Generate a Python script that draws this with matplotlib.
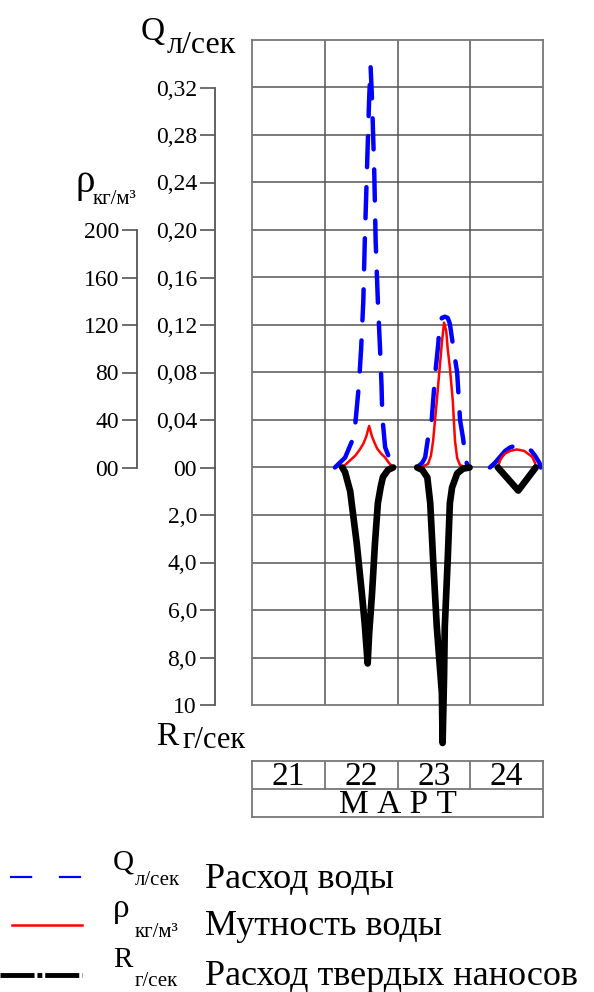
import numpy as np
import matplotlib.pyplot as plt
from matplotlib.lines import Line2D

plt.rcParams['font.family'] = ['Liberation Serif', 'DejaVu Serif']

W, H = 594, 992
nan = np.nan

# days of the month on the x axis, events as fractional days
days = [21, 22, 23, 24]
month = 'М А Р Т'

# water discharge Q, l/s
q_t = [22.14, 22.28, 22.38, 22.42, 22.44, 22.47, 22.50, 22.53, 22.55, 22.58, 22.61, 22.63,
       22.65, 22.68, 22.70, 22.73, 22.76, 22.78, 22.79, 22.80, 22.83, 22.90, 22.97, nan,
       23.27, 23.34, 23.38, 23.42, 23.47, 23.52, 23.56, 23.58, 23.61, 23.65, 23.69, 23.72,
       23.76, 23.82, 23.86, 23.90, 23.94, 23.97, nan,
       24.27, 24.34, 24.41, 24.48, 24.55, 24.66, 24.77, 24.84, 24.89, 24.95, 24.97]
q_val = [0, 0.0084, 0.023, 0.037, 0.05, 0.07, 0.10, 0.14, 0.19, 0.25, 0.31, 0.338,
         0.31, 0.25, 0.19, 0.14, 0.10, 0.07, 0.046, 0.037, 0.017, 0.006, 0, nan,
         0, 0.004, 0.0085, 0.025, 0.04, 0.08, 0.104, 0.121, 0.126, 0.127, 0.126, 0.121,
         0.104, 0.08, 0.04, 0.025, 0.006, 0, nan,
         0, 0.004, 0.009, 0.014, 0.017, 0.019, 0.017, 0.014, 0.010, 0.004, 0]

# turbidity rho, kg/m3
rho_t = [22.24, 22.33, 22.42, 22.48, 22.53, 22.57, 22.61, 22.65, 22.69, 22.72, 22.77,
         22.83, 22.88, 22.94, nan,
         23.27, 23.35, 23.42, 23.46, 23.49, 23.54, 23.58, 23.61, 23.64, 23.67, 23.69,
         23.72, 23.76, 23.79, 23.82, 23.86, 23.96, nan,
         24.38, 24.41, 24.44, 24.48, 24.55, 24.64, 24.74, 24.79, 24.85, 24.89, 24.90]
rho_val = [0, 5, 10, 15, 20, 26, 35, 26, 20, 16, 12, 8.4, 4, 0, nan,
           0, 1, 3, 10, 22.7, 56, 84, 105, 122, 115, 100, 84, 56, 22.7, 8, 2, 0, nan,
           0, 6, 9, 11.8, 14, 15.2, 14, 11.8, 9, 4, 0]

# sediment discharge R, g/s
r_t = [22.24, 22.28, 22.31, 22.35, 22.37, 22.44, 22.51, 22.55, 22.59, 22.61, 22.65,
       22.69, 22.73, 22.77, 22.80, 22.87, 22.94, nan,
       23.27, 23.34, 23.41, 23.45, 23.49, 23.54, 23.61, 23.62, 23.64, 23.65, 23.69,
       23.72, 23.75, 23.82, 23.90, 23.99, nan,
       24.38, 24.66, 24.90]
r_val = [0, 0.2, 0.55, 1.0, 1.5, 3.2, 5.3, 6.6, 8.25, 7.0, 5.3, 3.2, 1.5, 0.8, 0.4, 0.1, 0, nan,
         0, 0.1, 0.42, 1.5, 3.9, 6.7, 9.5, 11.6, 8.8, 6.7, 3.9, 1.5, 0.84, 0.25, 0.05, 0, nan,
         0, 0.97, 0]

q_ticks = [0, 0.04, 0.08, 0.12, 0.16, 0.20, 0.24, 0.28, 0.32]
q_labels = ['00', '0,04', '0,08', '0,12', '0,16', '0,20', '0,24', '0,28', '0,32']
r_ticks = [2, 4, 6, 8, 10]
r_labels = ['2,0', '4,0', '6,0', '8,0', '10']
rho_ticks = [0, 40, 80, 120, 160, 200]
rho_labels = ['00', '40', '80', '120', '160', '200']

GRID = '#555555'


def rect(x0, y0, x1, y1):
    return [x0 / W, 1 - y1 / H, (x1 - x0) / W, (y1 - y0) / H]


def fx(px):
    return px / W


def fy(py):
    return 1 - py / H


fig = plt.figure(figsize=(W / 100, H / 100), dpi=100)

# main grid
ax = fig.add_axes(rect(252, 40, 543, 705))
ax.set_xlim(21, 25)
ax.set_ylim(-0.2, 0.36)
ax.set_xticks([22, 23, 24])
ax.set_yticks(np.arange(-0.16, 0.36, 0.04))
ax.tick_params(length=0, labelbottom=False, labelleft=False)
ax.grid(True, color=GRID, lw=1.1)
for s in ax.spines.values():
    s.set_color('#777777')
    s.set_linewidth(1.3)
ax.plot(q_t, q_val, color='#0000ff', lw=3.2, ls=(0, (7, 4.5)), solid_capstyle='round',
        dash_capstyle='round')

ax_rho = ax.twinx()
ax_rho.set_ylim(-200, 360)
ax_rho.set_axis_off()
ax_rho.plot(rho_t, rho_val, color='#ff0000', lw=1.8)

ax_r = ax.twinx()
ax_r.set_ylim(10, -18)
ax_r.set_axis_off()
ax_r.plot(r_t, r_val, color='black', lw=4.8, solid_capstyle='round', clip_on=False)


def scale_axis(x, y0, y1, lim, bounds, ticks, labels):
    a = fig.add_axes(rect(x, y0, x + 1, y1))
    a.set_ylim(*lim)
    a.patch.set_visible(False)
    a.set_xticks([])
    for k in ['top', 'right', 'bottom']:
        a.spines[k].set_visible(False)
    a.spines['left'].set_bounds(*bounds)
    a.spines['left'].set_color(GRID)
    a.spines['left'].set_linewidth(1.3)
    a.set_yticks(ticks)
    a.set_yticklabels(labels)
    a.tick_params(axis='y', length=11, width=1.2, color=GRID, pad=2, labelsize=17)
    return a


scale_axis(215, 40, 705, (-0.2, 0.36), (0, 0.32), q_ticks, q_labels)
scale_axis(215, 40, 705, (10, -18), (0, 10), r_ticks, r_labels)
scale_axis(137, 40, 705, (-200, 360), (0, 200), rho_ticks, rho_labels)

# axis titles
fig.text(fx(141), fy(40), 'Q', fontsize=24, va='baseline')
fig.text(fx(167), fy(53), 'л/сек', fontsize=23, va='baseline')
fig.text(fx(75), fy(192), 'ρ', fontsize=28, va='baseline')
fig.text(fx(93), fy(204), 'кг/м³', fontsize=15, va='baseline')
fig.text(fx(156), fy(745), 'R', fontsize=24, va='baseline')
fig.text(fx(182), fy(748), 'г/сек', fontsize=22, va='baseline')

# date table
tb = fig.add_axes(rect(252, 761, 543, 817))
tb.set_xlim(21, 25)
tb.set_ylim(0, 2)
tb.set_xticks([])
tb.set_yticks([])
for s in tb.spines.values():
    s.set_color('#777777')
    s.set_linewidth(1.3)
tb.axhline(1, color='#777777', lw=1.3)
for d in days[1:]:
    tb.plot([d, d], [1, 2], color='#777777', lw=1.3)
for d in days:
    tb.text(d + 0.5, 1.45, str(d), ha='center', va='center', fontsize=24)
tb.text(23, 0.45, month, ha='center', va='center', fontsize=24)

# legend
fig.add_artist(Line2D([fx(10), fx(82)], [fy(877), fy(877)], color='#0000ff', lw=1.6,
                      ls=(0, (10, 12))))
fig.add_artist(Line2D([fx(12), fx(82)], [fy(925), fy(925)], color='#ff0000', lw=1.8))
fig.add_artist(Line2D([fx(0), fx(82)], [fy(975), fy(975)], color='black', lw=3.5,
                      ls=(0, (7, 0.6, 1, 0.6))))

fig.text(fx(113), fy(870), 'Q', fontsize=21, va='baseline')
fig.text(fx(135), fy(885), 'л/сек', fontsize=15, va='baseline')
fig.text(fx(205), fy(888), 'Расход воды', fontsize=26, va='baseline')
fig.text(fx(113), fy(917), 'ρ', fontsize=24, va='baseline')
fig.text(fx(135), fy(937), 'кг/м³', fontsize=15, va='baseline')
fig.text(fx(205), fy(935), 'Мутность воды', fontsize=26, va='baseline')
fig.text(fx(113), fy(967), 'R', fontsize=21, va='baseline')
fig.text(fx(135), fy(986), 'г/сек', fontsize=15, va='baseline')
fig.text(fx(205), fy(985), 'Расход твердых наносов', fontsize=26, va='baseline')

fig.savefig('out.png', dpi=100)
